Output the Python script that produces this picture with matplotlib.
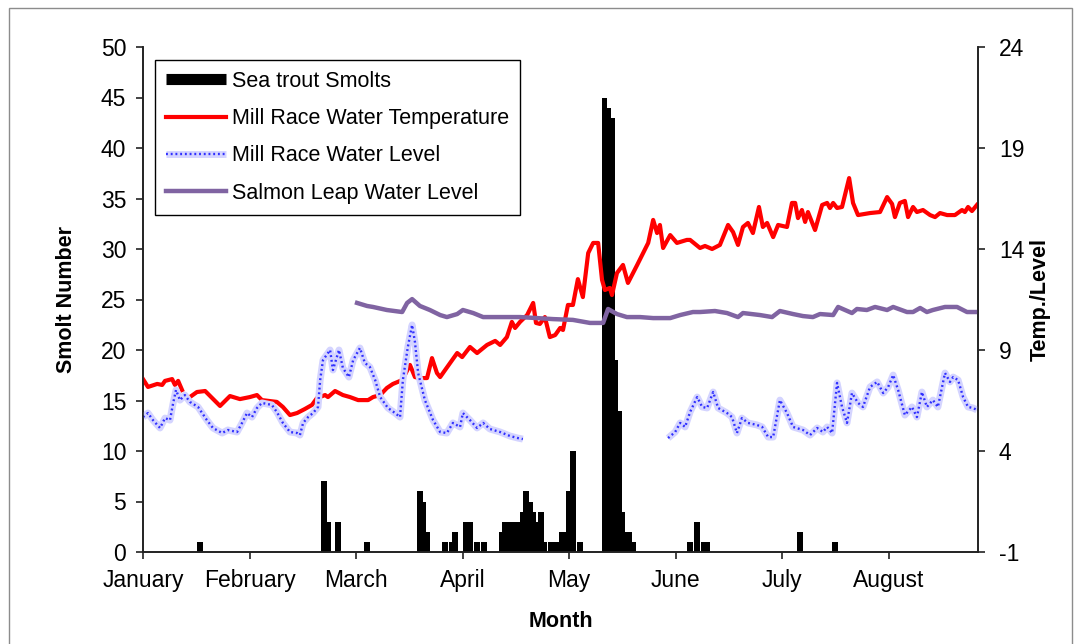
import numpy as np
import matplotlib.pyplot as plt
from matplotlib.lines import Line2D
from matplotlib.legend_handler import HandlerTuple
from matplotlib.patches import Rectangle

plt.rcParams['font.family'] = ['Liberation Sans', 'DejaVu Sans']
plt.rcParams['axes.unicode_minus'] = False

# day index (0 = 1 January)
months = ['January', 'February', 'March', 'April', 'May', 'June', 'July', 'August']
month_ticks = [0, 30, 60, 90, 120, 150, 180, 210]

# Sea trout smolts per day
smolt_day = [16, 51, 52, 55, 63, 78, 79, 80, 85, 87, 88, 91, 92, 94, 96,
             101, 102, 103, 104, 105, 106, 107, 108, 109, 110, 111, 112, 113,
             115, 116, 117, 118, 119, 120, 121, 123,
             130, 131, 132, 133, 134, 135, 136, 137, 138,
             154, 156, 158, 159, 185, 195]
smolt_n = [1, 7, 3, 3, 1, 6, 5, 2, 1, 1, 2, 3, 3, 1, 1,
           2, 3, 3, 3, 3, 3, 4, 6, 5, 4, 3, 4, 1,
           1, 1, 1, 2, 2, 6, 10, 1,
           45, 44, 43, 19, 14, 4, 2, 2, 1,
           1, 3, 1, 1, 2, 1]

# Mill Race water temperature
temp_day = [0, 1.4, 4.0, 5.4, 6.2, 8.2, 9.0, 9.9, 11.0, 12.1, 13.2, 15.2, 17.5,
            21.7, 24.5, 27.3, 30.1, 32.1, 33.5, 37.7, 39.4, 41.4, 43.4, 45.6,
            47.6, 49.0, 51.3, 52.1, 54.1, 56.3, 58.3, 60.6, 63.4, 64.8, 66.8,
            68.7, 70.4, 71.8, 73.0, 75.2, 76.6, 78.0, 80.0, 81.4, 82.8, 83.7,
            85.1, 88.5, 89.9, 92.1, 94.1, 96.9, 99.2, 100.6, 102.5, 103.9,
            104.8, 106.2, 108.2, 109.9, 110.7, 111.8, 113.2, 114.6, 116.1,
            117.5, 118.3, 119.7, 121.1, 122.5, 123.9, 125.4, 126.8, 128.2,
            129.3, 130.1, 131.5, 132.1, 133.5, 135.2, 136.6, 139.2, 142.3,
            143.7, 144.8, 145.6, 146.5, 148.5, 150.4, 153.2, 154.1, 156.9,
            158.3, 160.3, 162.5, 164.8, 166.2, 167.6, 169.0, 170.4, 171.8,
            173.5, 174.6, 175.8, 177.5, 178.9, 181.4, 182.8, 183.7, 184.5,
            185.6, 186.5, 187.3, 189.3, 191.3, 192.7, 193.5, 194.4, 195.5,
            196.9, 198.9, 200.0, 201.4, 204.8, 207.6, 209.6, 211.0, 211.8,
            213.2, 214.6, 215.5, 216.9, 218.0, 219.7, 221.7, 223.1, 224.5,
            226.5, 228.7, 230.7, 231.5, 232.4, 233.5, 234.9]
temp_val = [7.56, 7.17, 7.32, 7.27, 7.47, 7.56, 7.27, 7.47, 7.02, np.nan, 6.67, 6.92, 6.97,
            6.23, 6.72, 6.57, 6.67, 6.77, 6.52, 6.43, 6.18, 5.78, 5.88, 6.08,
            6.28, 6.62, 6.77, 6.67, 6.97, 6.77, 6.67, 6.52, 6.52, 6.67, 6.77,
            7.12, 7.32, 7.42, 7.51, 8.26, 7.66, 7.61, 7.61, 8.60, 7.86, 7.66,
            8.01, 8.85, 8.65, 9.15, 8.85, 9.25, 9.45, 9.25, 9.64, 10.39,
            10.09, 10.39, 10.73, 11.33, 10.34, 10.29, 10.63, 9.64, 9.74,
            10.09, 9.99, 11.23, 11.23, 12.51, 11.62, 13.80, 14.30, 14.30,
            12.47, 11.97, 12.07, 11.72, 12.81, 13.21, 12.32, 13.21, 14.30,
            15.44, 14.79, 15.19, 14.05, 14.69, 14.30, 14.45, 14.45, 14.05,
            14.15, 14.00, 14.20, 15.19, 14.84, 14.20, 15.09, 15.29, 14.79,
            16.08, 15.09, 15.29, 14.59, 15.19, 15.09, 16.28, 16.28, 15.53,
            15.93, 15.34, 15.83, 14.94, 16.18, 16.28, 16.03, 16.28, 16.03,
            16.08, 17.51, 16.28, 15.68, 15.78, 15.83, 16.57, 16.23, 15.58,
            16.28, 16.38, 15.58, 16.08, 15.83, 15.93, 15.68, 15.58, 15.78,
            15.68, 15.68, 15.93, 15.83, 16.08, 15.88, 16.18]

# Mill Race water level
mill_day = [0, 1.4, 2.8, 4.8, 6.2, 7.6, 8.5, 9.3, 10.4, 11.8, 13.2, 15.5, 18.0,
            19.7, 22.3, 23.9, 26.5, 27.9, 29.3, 30.7, 32.1, 33.5, 36.3, 37.7,
            39.4, 41.4, 43.4, 44.2, 45.1, 46.5, 47.9, 49.3, 49.9, 50.7, 52.7,
            53.5, 55.2, 56.3, 58.0, 59.2, 61.1, 62.5, 63.9, 65.4, 66.8, 69.0,
            71.0, 72.4, 73.2, 74.6, 75.8, 76.6, 77.5, 79.4, 81.7, 83.7, 85.6,
            87.3, 89.3, 90.1, 92.1, 94.1, 95.8, 97.7, 100.6, 103.4, 105.6,
            107.0, 127.0,
            147.9, 149.9, 151.3, 152.7, 154.1, 156.1, 157.5, 158.9, 160.6,
            162.0, 164.5, 165.9, 167.3, 168.7, 170.4, 172.9, 174.4, 176.1,
            177.5, 179.4, 181.4, 183.1, 185.9, 187.9, 189.9, 191.5, 192.7,
            194.1, 195.5, 196.9, 198.3, 199.7, 201.4, 202.8, 204.8, 206.8,
            208.5, 209.9, 211.3, 212.7, 214.6, 216.6, 218.0, 219.4, 220.8,
            222.5, 223.9, 225.9, 227.3, 228.2, 229.6, 231.0, 232.4, 233.8, 234.9]
mill_val = [5.68, 5.88, 5.53, 5.14, 5.63, 5.53, 6.38, 7.02, 6.52, 6.77, 6.43, 6.18, 5.53,
            5.14, 4.89, 5.04, 4.94, 5.39, 5.88, 5.68, 6.13, 6.38, 6.28, 5.93,
            5.39, 4.94, 4.89, 4.79, 5.39, 5.68, 5.88, 6.18, 7.51, 8.50, 9.00,
            8.01, 9.00, 8.11, 7.66, 8.50, 9.10, 8.36, 8.16, 7.51, 6.67, 6.13,
            5.88, 5.68, 7.51, 9.15, 10.24, 9.40, 7.86, 6.52, 5.53, 4.94, 4.89,
            5.39, 5.19, 5.88, 5.53, 5.14, 5.39, 5.09, 4.94, 4.74, 4.64,
            4.59, np.nan,
            4.64, 4.94, 5.39, 5.19, 5.93, 6.67, 6.18, 6.13, 6.92,
            6.13, 5.88, 5.68, 4.89, 5.63, 5.39, 5.29, 5.19, 4.69,
            4.69, 6.52, 5.88, 5.19, 5.04, 4.79, 5.14, 4.94, 5.19,
            4.89, 7.37, 6.18, 5.39, 6.87, 6.38, 6.18, 7.17, 7.42,
            6.87, 7.17, 7.76, 7.02, 5.78, 6.18, 5.68, 6.92, 6.18,
            6.52, 6.18, 7.86, 7.42, 7.66, 7.51, 6.67, 6.18, 6.13, 6.03]

# Salmon Leap water level
leap_day = [60.3, 63.1, 64.8, 68.7, 73.0, 74.4, 75.8, 78.0, 80.8, 83.7, 85.6,
            88.5, 90.1, 93.0, 95.8, 101.4, 106.2, 111.0, 115.5, 121.1, 125.9,
            129.6, 131.0, 133.5, 136.3, 140.0, 143.7, 148.5, 151.3, 154.9,
            156.9, 161.1, 164.5, 167.6, 169.0, 173.8, 177.2, 179.4, 183.1,
            185.9, 188.7, 190.7, 194.4, 195.8, 199.7, 201.1, 203.9, 206.2,
            209.6, 211.3, 215.2, 216.9, 218.9, 220.8, 222.5, 225.9, 229.3,
            232.1, 234.9]
leap_val = [11.33, 11.18, 11.13, 10.98, 10.88, 11.33, 11.52, 11.18, 10.98, 10.73, 10.63,
            10.78, 10.98, 10.83, 10.63, 10.63, 10.63, 10.58, 10.53, 10.49, 10.34,
            10.34, 11.03, 10.78, 10.63, 10.63, 10.58, 10.58, 10.73, 10.88,
            10.88, 10.93, 10.83, 10.63, 10.83, 10.73, 10.63, 10.93, 10.78,
            10.68, 10.63, 10.78, 10.73, 11.13, 10.83, 11.03, 10.98, 11.13,
            10.98, 11.13, 10.88, 10.88, 11.08, 10.88, 10.98, 11.13, 11.13,
            10.88, 10.88]

fig = plt.figure(figsize=(10.81, 6.44), dpi=100)
# outer chart border
fig.patches.append(Rectangle((9 / 1081, -0.1), 1063 / 1081, 1.1 - 8 / 644,
                             transform=fig.transFigure, fill=False,
                             edgecolor='#8c8c8c', linewidth=1.0))
ax = fig.add_axes([143 / 1081, 92 / 644, 835 / 1081, 505 / 644])
ax2 = ax.twinx()

ax.bar(smolt_day, smolt_n, width=1.66, color='black', zorder=2)
ax.set_xlim(0, 235.2)
ax.set_ylim(0, 50)
ax.set_yticks(range(0, 51, 5))
ax.set_xticks(month_ticks)
ax.set_xticklabels(months)

ax2.plot(temp_day, temp_val, color='#ff0000', lw=3.0, solid_joinstyle='round')
mill_bg, = ax2.plot(mill_day, mill_val, color='#d4d4ff', lw=5.0, solid_capstyle='butt')
mill_fg, = ax2.plot(mill_day, mill_val, color='#3030ff', lw=1.7, linestyle=(0, (0.8, 1.2)))
ax2.plot(leap_day, leap_val, color='#8064a2', lw=3.2)
ax2.set_ylim(-1, 24)
ax2.set_yticks([-1, 4, 9, 14, 19, 24])

for a in (ax, ax2):
    a.spines['top'].set_visible(False)
    for s in a.spines.values():
        s.set_linewidth(1.2)
        s.set_color('#222222')
    a.tick_params(direction='out', length=5, width=1.2, labelsize=16.5,
                  color='#222222')
ax.tick_params(axis='x', pad=7)
ax.tick_params(axis='y', pad=7)
ax2.tick_params(axis='y', pad=10)
ax.set_ylabel('Smolt Number', fontsize=15.5, fontweight='bold', labelpad=17)
ax2.set_ylabel('Temp./Level', fontsize=15.5, fontweight='bold', labelpad=4)
ax.set_xlabel('Month', fontsize=15.5, fontweight='bold', labelpad=14)

handles = [Line2D([], [], color='black', lw=8, solid_capstyle='butt'),
           Line2D([], [], color='#ff0000', lw=3),
           (mill_bg, mill_fg),
           Line2D([], [], color='#8064a2', lw=3.2)]
labels = ['Sea trout Smolts', 'Mill Race Water Temperature',
          'Mill Race Water Level', 'Salmon Leap Water Level']
leg = ax2.legend(handles, labels, loc='upper left',
                 bbox_to_anchor=(12 / 835, 492 / 505), borderaxespad=0,
                 fontsize=15.5, handlelength=2.8, handletextpad=0.3,
                 labelspacing=0.76, borderpad=0.5, fancybox=False,
                 framealpha=1, edgecolor='black',
                 handler_map={tuple: HandlerTuple(ndivide=1)})
leg.get_frame().set_linewidth(1.0)

plt.savefig('out.png', dpi=100)
